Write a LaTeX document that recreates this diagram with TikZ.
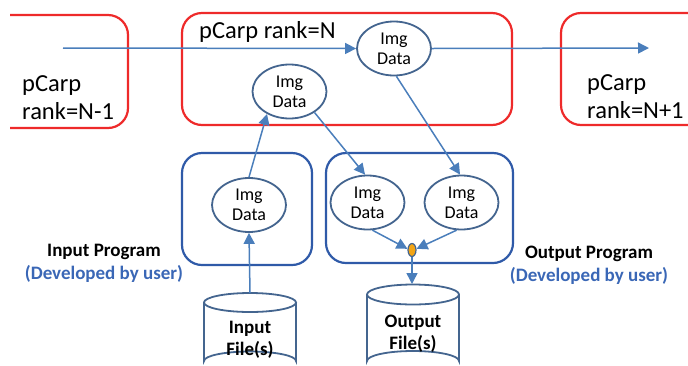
\documentclass[tikz,border=0pt]{standalone}
\usepackage{fontspec}
\setmainfont{Carlito}
\usetikzlibrary{arrows.meta,shapes.geometric}
\definecolor{rankred}{HTML}{EE2A2A}
\definecolor{progblue}{HTML}{2F5AA8}
\definecolor{ellblue}{HTML}{44658F}
\definecolor{flowblue}{HTML}{4A7EBB}
\definecolor{textblue}{HTML}{3A67B6}
\definecolor{dotorange}{HTML}{F2A516}
% two stacked lines whose baseline is that of the first line
\newcommand\twolines[3][c]{\begin{tabular}[t]{@{}#1@{}}#2\\#3\end{tabular}}
\begin{document}
\begin{tikzpicture}[x=1pt,y=-1pt,
  rankbox/.style={draw=rankred,line width=2.2pt,rounded corners=20pt},
  progbox/.style={draw=progblue,line width=2.2pt,rounded corners=20pt},
  imgdata/.style={ellipse,draw=ellblue,line width=1.8pt,fill=white,
    minimum width=74pt,minimum height=54pt,inner sep=0pt,align=center,
    font=\fontsize{18}{20}\selectfont},
  flow/.style={draw=flowblue,line width=1.5pt,-{Triangle[length=11pt,width=11pt]}},
  store/.style={draw=ellblue,line width=1.8pt},
  storetext/.style={font=\bfseries\fontsize{19}{22}\selectfont,inner sep=0pt,anchor=base},
  ranklabel/.style={font=\fontsize{24.5}{28}\selectfont,inner sep=0pt,anchor=base west},
  proglabel/.style={font=\bfseries\fontsize{19}{23}\selectfont,inner sep=0pt,anchor=base}]
\useasboundingbox (0,0) rectangle (688,365);
\clip (0,0) rectangle (688,365);

% ranks
\draw[rankbox] (10,15) -- (128,15) -- (128,128) -- (10,128);
\draw[rankbox] (182,13) rectangle (512,125);
\draw[rankbox] (700,13) -- (561,13) -- (561,125) -- (700,125);
\node[ranklabel] (lblL) at (22,91) {\twolines[l]{pCarp}{rank=N-1}};
\node[ranklabel] (lblN) at (199,38) {pCarp rank=N};
\node[ranklabel] (lblR) at (587,90) {\twolines[l]{pCarp}{rank=N+1}};

% user programs
\draw[progbox] (182,153) rectangle (312,265);
\draw[progbox] (326,153) rectangle (513,263);
\node[proglabel] (inLbl) at (104,256) {\twolines{Input Program}{\textcolor{textblue}{(Developed by user)}}};
\node[proglabel] (outLbl) at (589,258) {\twolines{Output Program}{\textcolor{textblue}{(Developed by user)}}};

% image data
\node[imgdata] (eT) at (394,48.5) {Img\\Data};
\node[imgdata] (rE) at (289.5,91.5) {Img\\Data};
\node[imgdata] (inE) at (249,205) {Img\\Data};
\node[imgdata] (oL) at (367.5,202.5) {Img\\Data};
\node[imgdata] (oR) at (461.5,202.5) {Img\\Data};
\node[ellipse,draw=ellblue,fill=dotorange,line width=1.2pt,minimum width=8pt,
  minimum height=13pt,inner sep=0pt] (dot) at (412,250) {};

% files
\draw[store] (204,302.5) -- (204,361) arc[start angle=180,end angle=360,x radius=46,y radius=9.5] -- (296,302.5);
\draw[store] (250,302.5) ellipse[x radius=46,y radius=9.5];
\coordinate (inTop) at (250,293);
\node[storetext] (inF) at (250,333) {\twolines{Input}{File(s)}};
\draw[store] (367,294.5) -- (367,361) arc[start angle=180,end angle=360,x radius=46,y radius=10] -- (459,294.5);
\draw[store] (413,294.5) ellipse[x radius=46,y radius=10];
\coordinate (outTop) at (412,284);
\node[storetext] (outF) at (413,327) {\twolines{Output}{File(s)}};

% data flow
\coordinate (src) at (63,48);
\coordinate (dst) at (649,48);
\draw[flow] (src) -- (eT.west);
\draw[flow] (eT.east) -- (dst);
\draw[flow] (inE.north) -- (rE.225);
\draw[flow] (rE.-40) -- (oL.95);
\draw[flow] (eT.-85) -- (oR.93);
\draw[flow] (oL.-80) -- (dot.165);
\draw[flow] (oR.-100) -- (dot.15);
\draw[flow] (dot.south) -- (outTop);
\draw[flow] (inTop) -- (inE.south);
\end{tikzpicture}
\end{document}
